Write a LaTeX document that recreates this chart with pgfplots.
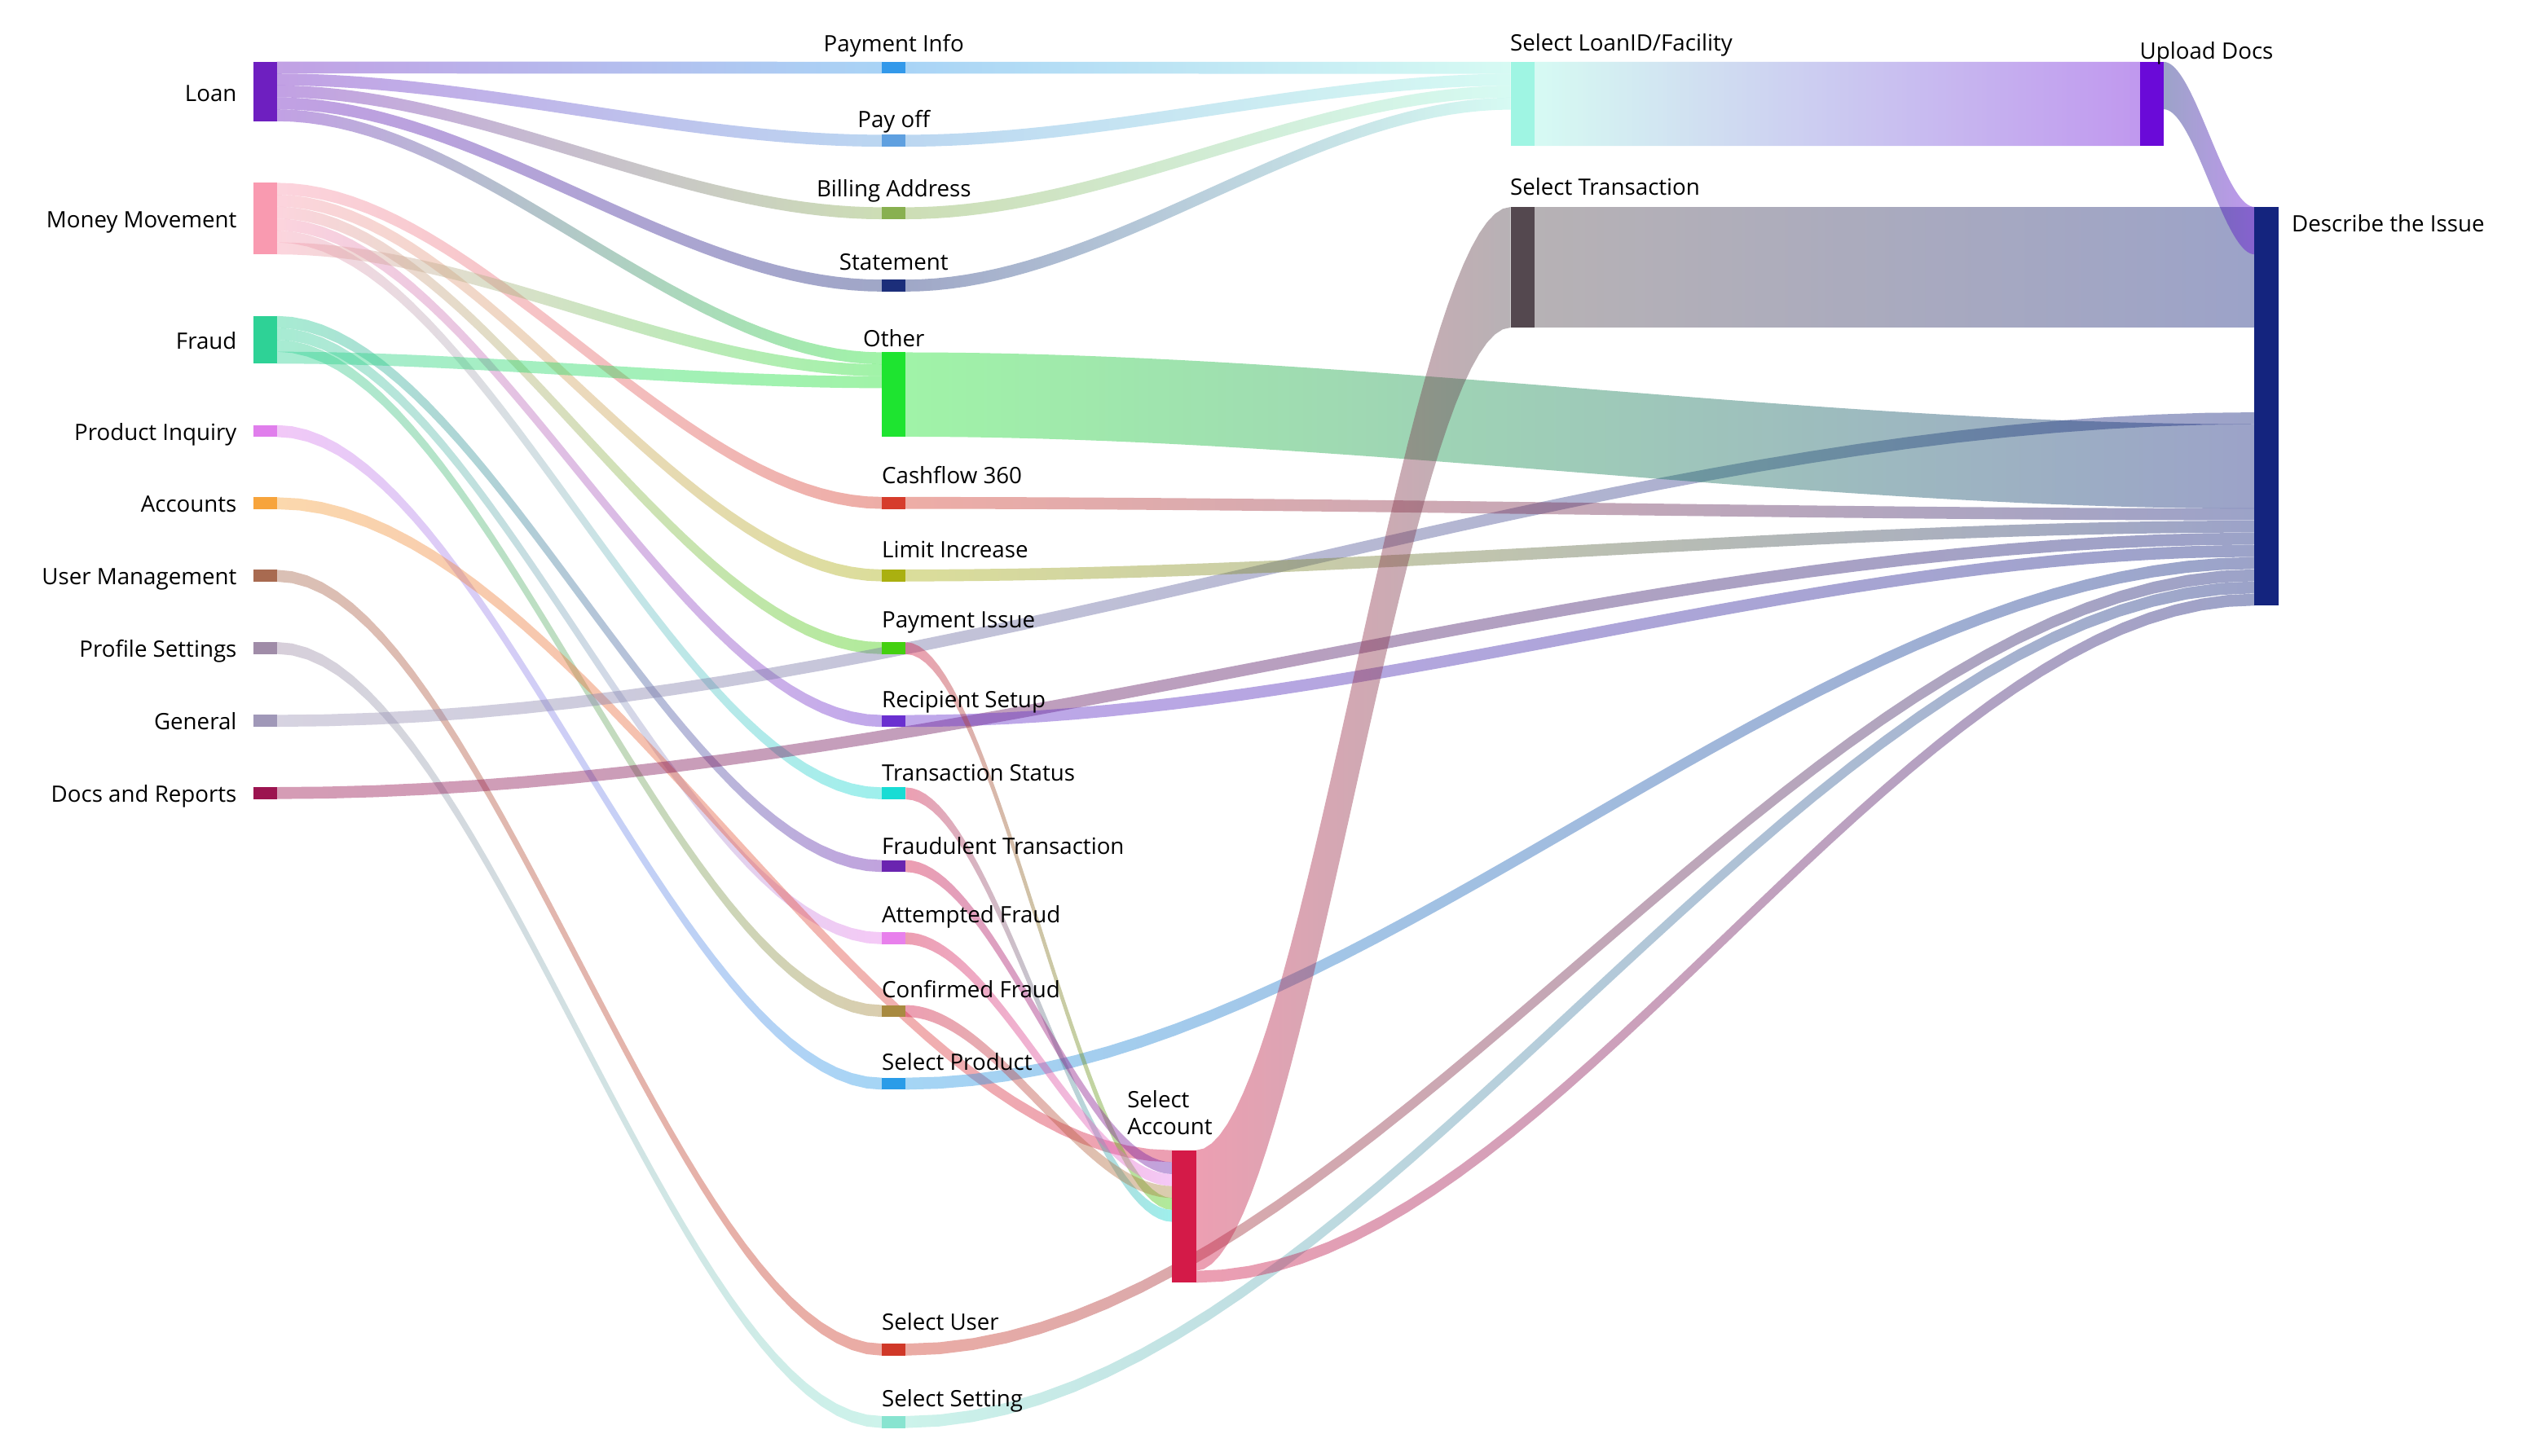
\documentclass[border=0pt]{standalone}
\usepackage{fontspec}
\setmainfont{Open Sans}
\usepackage{pgfplots}
\usepackage{pgfplotstable}
\pgfplotsset{compat=1.18}

% node colours
\definecolor{loan}{HTML}{6E1FC0}
\definecolor{mm}{HTML}{F99AB0}
\definecolor{fraud}{HTML}{2ED296}
\definecolor{prodinq}{HTML}{E07EEC}
\definecolor{accounts}{HTML}{F7A43C}
\definecolor{userm}{HTML}{A86A50}
\definecolor{profile}{HTML}{A08CA8}
\definecolor{general}{HTML}{A098B8}
\definecolor{docs}{HTML}{9C1450}
\definecolor{payinfo}{HTML}{3399EA}
\definecolor{payoff}{HTML}{5FA0E0}
\definecolor{billing}{HTML}{88B050}
\definecolor{statement}{HTML}{1C2E7A}
\definecolor{other}{HTML}{1EE430}
\definecolor{cashflow}{HTML}{D63C2C}
\definecolor{limit}{HTML}{AAB010}
\definecolor{payissue}{HTML}{44D010}
\definecolor{recip}{HTML}{6A30D0}
\definecolor{tstatus}{HTML}{18DCD4}
\definecolor{fraudt}{HTML}{6A24B0}
\definecolor{attf}{HTML}{E880EC}
\definecolor{conff}{HTML}{A88A40}
\definecolor{selprod}{HTML}{2A9CE8}
\definecolor{seluser}{HTML}{D03828}
\definecolor{selset}{HTML}{88E4D0}
\definecolor{selacc}{HTML}{D41A48}
\definecolor{loanid}{HTML}{9FF5E3}
\definecolor{seltrans}{HTML}{54484F}
\definecolor{upload}{HTML}{6A0AD8}
\definecolor{describe}{HTML}{14247E}

\tikzset{lbl/.style={font=\fontsize{14bp}{16bp}\selectfont, text=black, inner sep=0pt}}

% unit band outline (smoothstep): top edge (B=0) then bottom edge back (B=1)
\pgfplotstableread{
X Y B
0 0 0
0.025 0.001844 0
0.05 0.00725 0
0.075 0.016031 0
0.1 0.028 0
0.125 0.042969 0
0.15 0.06075 0
0.175 0.081156 0
0.2 0.104 0
0.225 0.129094 0
0.25 0.15625 0
0.275 0.185281 0
0.3 0.216 0
0.325 0.248219 0
0.35 0.28175 0
0.375 0.316406 0
0.4 0.352 0
0.425 0.388344 0
0.45 0.42525 0
0.475 0.462531 0
0.5 0.5 0
0.525 0.537469 0
0.55 0.57475 0
0.575 0.611656 0
0.6 0.648 0
0.625 0.683594 0
0.65 0.71825 0
0.675 0.751781 0
0.7 0.784 0
0.725 0.814719 0
0.75 0.84375 0
0.775 0.870906 0
0.8 0.896 0
0.825 0.918844 0
0.85 0.93925 0
0.875 0.957031 0
0.9 0.972 0
0.925 0.983969 0
0.95 0.99275 0
0.975 0.998156 0
1 1 0
1 1 1
0.975 0.998156 1
0.95 0.99275 1
0.925 0.983969 1
0.9 0.972 1
0.875 0.957031 1
0.85 0.93925 1
0.825 0.918844 1
0.8 0.896 1
0.775 0.870906 1
0.75 0.84375 1
0.725 0.814719 1
0.7 0.784 1
0.675 0.751781 1
0.65 0.71825 1
0.625 0.683594 1
0.6 0.648 1
0.575 0.611656 1
0.55 0.57475 1
0.525 0.537469 1
0.5 0.5 1
0.475 0.462531 1
0.45 0.42525 1
0.425 0.388344 1
0.4 0.352 1
0.375 0.316406 1
0.35 0.28175 1
0.325 0.248219 1
0.3 0.216 1
0.275 0.185281 1
0.25 0.15625 1
0.225 0.129094 1
0.2 0.104 1
0.175 0.081156 1
0.15 0.06075 1
0.125 0.042969 1
0.1 0.028 1
0.075 0.016031 1
0.05 0.00725 1
0.025 0.001844 1
0 0 1
}\shape

% link: x0 y0 x1 y1 width leftcolour rightcolour
\newcommand{\lnk}[7]{\addplot[draw=none, left color=#6, right color=#7, opacity=0.42]
  table[x expr={#1+(#3-#1)*\thisrow{X}}, y expr={#2+(#4-#2)*\thisrow{Y}+#5*\thisrow{B}}]{\shape};}
% node: x0 x1 y0 y1 colour
\newcommand{\nd}[5]{\addplot[fill=#5, draw=none] coordinates {(#1,#3) (#2,#3) (#2,#4) (#1,#4)};}

\begin{document}
\begin{tikzpicture}
\begin{axis}[
  width=1568bp, height=902.8bp, scale only axis,
  xmin=0, xmax=1568, ymin=0, ymax=902.8, y dir=reverse,
  axis lines=none, xtick=\empty, ytick=\empty,
  axis background/.style={fill=white},
  clip=false,
]
% ---- links ----
% Loan
\lnk{171.8}{38.2}{547}{38.3}{7.4}{loan}{payinfo}
\lnk{171.8}{45.6}{547}{83.6}{7.4}{loan}{payoff}
\lnk{171.8}{53.0}{547}{128.6}{7.4}{loan}{billing}
\lnk{171.8}{60.4}{547}{173.5}{7.4}{loan}{statement}
\lnk{171.8}{67.8}{547}{218.6}{7.4}{loan}{other}
% Money Movement
\lnk{171.8}{113.4}{547}{308.3}{7.4}{mm}{cashflow}
\lnk{171.8}{120.8}{547}{353.3}{7.4}{mm}{limit}
\lnk{171.8}{128.2}{547}{398.4}{7.4}{mm}{payissue}
\lnk{171.8}{135.6}{547}{443.6}{7.4}{mm}{recip}
\lnk{171.8}{143.0}{547}{488.5}{7.4}{mm}{tstatus}
\lnk{171.8}{150.4}{547}{226.0}{7.4}{mm}{other}
% Fraud
\lnk{171.8}{196.0}{547}{533.6}{7.4}{fraud}{fraudt}
\lnk{171.8}{203.4}{547}{578.4}{7.4}{fraud}{attf}
\lnk{171.8}{210.8}{547}{623.5}{7.4}{fraud}{conff}
\lnk{171.8}{218.2}{547}{233.4}{7.4}{fraud}{other}
% single-link sources
\lnk{171.8}{263.7}{547}{668.6}{7.4}{prodinq}{selprod}
\lnk{171.8}{308.5}{727}{713.6}{7.4}{accounts}{selacc}
\lnk{171.8}{353.5}{547}{833.6}{7.4}{userm}{seluser}
\lnk{171.8}{398.3}{547}{878.5}{7.4}{profile}{selset}
\lnk{171.8}{443.5}{1398.3}{255.8}{7.4}{general}{describe}
\lnk{171.8}{488.3}{1398.3}{330.5}{7.4}{docs}{describe}
% loan subcategories to Select LoanID/Facility
\lnk{561.8}{38.3}{937}{38.4}{7.4}{payinfo}{loanid}
\lnk{561.8}{83.6}{937}{45.8}{7.4}{payoff}{loanid}
\lnk{561.8}{128.6}{937}{53.2}{7.4}{billing}{loanid}
\lnk{561.8}{173.5}{937}{60.6}{7.4}{statement}{loanid}
% column 1 to Describe the Issue
\lnk{561.8}{218.6}{1398.3}{263.2}{52.3}{other}{describe}
\lnk{561.8}{308.3}{1398.3}{315.4}{7.4}{cashflow}{describe}
\lnk{561.8}{353.3}{1398.3}{323.0}{7.4}{limit}{describe}
\lnk{561.8}{443.6}{1398.3}{338.1}{7.4}{recip}{describe}
\lnk{561.8}{668.6}{1398.3}{345.6}{7.4}{selprod}{describe}
\lnk{561.8}{833.6}{1398.3}{353.2}{7.4}{seluser}{describe}
\lnk{561.8}{878.5}{1398.3}{360.7}{7.4}{selset}{describe}
% column 1 to Select Account
\lnk{561.8}{398.4}{727}{743.2}{7.4}{selacc}{payissue}
\lnk{561.8}{488.5}{727}{750.6}{7.4}{selacc}{tstatus}
\lnk{561.8}{533.6}{727}{721.0}{7.4}{selacc}{fraudt}
\lnk{561.8}{578.4}{727}{728.4}{7.4}{selacc}{attf}
\lnk{561.8}{623.5}{727}{735.8}{7.4}{selacc}{conff}
% Select Account onwards
\lnk{741.8}{713.6}{937}{128.4}{74.8}{selacc}{seltrans}
\lnk{741.8}{788.4}{1398.3}{368.3}{7.4}{selacc}{describe}
\lnk{951.8}{38.4}{1327.3}{38.4}{52.2}{loanid}{upload}
\lnk{951.8}{128.4}{1398.3}{128.4}{74.8}{seltrans}{describe}
\lnk{1342.1}{38.4}{1398.3}{128.4}{29.4}{describe}{upload}

% ---- nodes ----
\nd{157}{171.8}{38.2}{75.2}{loan}
\nd{157}{171.8}{113.4}{157.8}{mm}
\nd{157}{171.8}{196.0}{225.6}{fraud}
\nd{157}{171.8}{263.7}{271.1}{prodinq}
\nd{157}{171.8}{308.5}{315.9}{accounts}
\nd{157}{171.8}{353.5}{360.9}{userm}
\nd{157}{171.8}{398.3}{405.7}{profile}
\nd{157}{171.8}{443.5}{450.9}{general}
\nd{157}{171.8}{488.3}{495.7}{docs}
\nd{547}{561.8}{38.3}{45.7}{payinfo}
\nd{547}{561.8}{83.6}{91.0}{payoff}
\nd{547}{561.8}{128.6}{136.0}{billing}
\nd{547}{561.8}{173.5}{180.9}{statement}
\nd{547}{561.8}{218.6}{270.9}{other}
\nd{547}{561.8}{308.3}{315.7}{cashflow}
\nd{547}{561.8}{353.3}{360.7}{limit}
\nd{547}{561.8}{398.4}{405.8}{payissue}
\nd{547}{561.8}{443.6}{451.0}{recip}
\nd{547}{561.8}{488.5}{495.9}{tstatus}
\nd{547}{561.8}{533.6}{541.0}{fraudt}
\nd{547}{561.8}{578.4}{585.8}{attf}
\nd{547}{561.8}{623.5}{630.9}{conff}
\nd{547}{561.8}{668.6}{676.0}{selprod}
\nd{547}{561.8}{833.6}{841.0}{seluser}
\nd{547}{561.8}{878.5}{885.9}{selset}
\nd{727}{741.8}{713.6}{795.8}{selacc}
\nd{937}{951.8}{38.4}{90.6}{loanid}
\nd{937}{951.8}{128.4}{203.2}{seltrans}
\nd{1327.3}{1342.1}{38.4}{90.6}{upload}
\nd{1398.3}{1413.1}{128.4}{375.8}{describe}

% ---- labels ----
\node[lbl, anchor=base east] at (axis cs:147,62.9) {Loan};
\node[lbl, anchor=base east] at (axis cs:147,141.5) {Money Movement};
\node[lbl, anchor=base east] at (axis cs:147,216.5) {Fraud};
\node[lbl, anchor=base east] at (axis cs:147,273.0) {Product Inquiry};
\node[lbl, anchor=base east] at (axis cs:147,317.6) {Accounts};
\node[lbl, anchor=base east] at (axis cs:147,362.6) {User Management};
\node[lbl, anchor=base east] at (axis cs:147,407.8) {Profile Settings};
\node[lbl, anchor=base east] at (axis cs:147,452.4) {General};
\node[lbl, anchor=base east] at (axis cs:147,497.4) {Docs and Reports};
\node[lbl, anchor=base] at (axis cs:554.4,31.9) {Payment Info};
\node[lbl, anchor=base] at (axis cs:554.4,79.3) {Pay off};
\node[lbl, anchor=base] at (axis cs:554.4,122.3) {Billing Address};
\node[lbl, anchor=base] at (axis cs:554.4,167.7) {Statement};
\node[lbl, anchor=base] at (axis cs:554.4,215.1) {Other};
\node[lbl, anchor=base west] at (axis cs:546.8,300.0) {Cashflow 360};
\node[lbl, anchor=base west] at (axis cs:546.8,346.0) {Limit Increase};
\node[lbl, anchor=base west] at (axis cs:546.8,389.5) {Payment Issue};
\node[lbl, anchor=base west] at (axis cs:546.8,438.8) {Recipient Setup};
\node[lbl, anchor=base west] at (axis cs:546.8,484.3) {Transaction Status};
\node[lbl, anchor=base west] at (axis cs:546.8,529.8) {Fraudulent Transaction};
\node[lbl, anchor=base west] at (axis cs:546.8,572.5) {Attempted Fraud};
\node[lbl, anchor=base west] at (axis cs:546.8,619.1) {Confirmed Fraud};
\node[lbl, anchor=base west] at (axis cs:546.8,663.7) {Select Product};
\node[lbl, anchor=base west] at (axis cs:546.8,825.2) {Select User};
\node[lbl, anchor=base west] at (axis cs:546.8,872.7) {Select Setting};
\node[lbl, anchor=base west] at (axis cs:699,687.0) {Select};
\node[lbl, anchor=base west] at (axis cs:699,703.8) {Account};
\node[lbl, anchor=base west] at (axis cs:936.5,31.7) {Select LoanID/Facility};
\node[lbl, anchor=base west] at (axis cs:936.5,121.3) {Select Transaction};
\node[lbl, anchor=base west] at (axis cs:1327,36.6) {Upload Docs};
\node[lbl, anchor=base west] at (axis cs:1421.3,143.9) {Describe the Issue};
\end{axis}
\end{tikzpicture}
\end{document}
